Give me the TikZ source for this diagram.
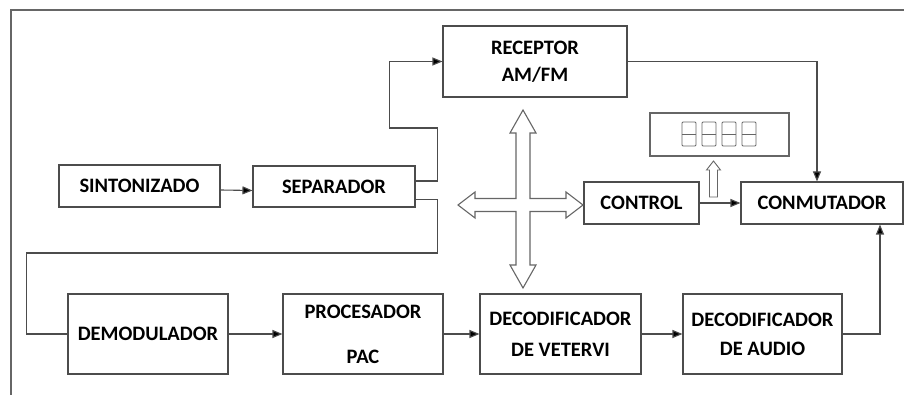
\documentclass[tikz,border=0pt]{standalone}
\usepackage{fontspec}
\setmainfont{Carlito}
\usetikzlibrary{arrows.meta}

\begin{document}
\begin{tikzpicture}[x=1pt, y=-1pt,
    blk/.style={draw=black!70, line width=1.1pt, inner sep=0pt, align=center,
        font=\fontsize{20.5}{23}\selectfont\bfseries, text=black},
    conn/.style={draw=black!70, line width=1.1pt},
    arr/.style={conn, -{Triangle[length=10pt, width=8pt, fill=black]}},
    hollow/.style={draw=black!60, line width=1.1pt, fill=white, line join=miter}]
    % Bounding box
    \useasboundingbox (0,0) rectangle (904,395);

    % Draw Frame
    \draw[draw=black!60, line width=1.3pt] (904,10) -- (11,10) -- (11,395);

    % Top row boxes
    \node[blk, minimum width=161pt, minimum height=42pt] (sint) at (139.5,186) {SINTONIZADO};
    \node[blk, minimum width=162pt, minimum height=41pt] (sep) at (334,186.5) {SEPARADOR};
    \node[blk, minimum width=184pt, minimum height=71pt] (rec) at (535,61.5) {RECEPTOR\\[4pt]AM/FM};
    \node[blk, minimum width=115pt, minimum height=42pt] (ctrl) at (641.5,203) {CONTROL};
    \node[blk, minimum width=162pt, minimum height=42pt] (conm) at (822,203) {CONMUTADOR};
    \node[blk, draw=black!60, minimum width=139pt, minimum height=43pt] (disp) at (719.5,134.5) {};

    % -- display digits
    \foreach \i in {0,...,3} {
        \draw[black!60, line width=0.9pt, rounded corners=1pt] (682+20*\i,122) rectangle ++(14,24);
        \draw[black!60, line width=0.9pt] (682+20*\i,134) -- ++(14,0);
    }

    % Bottom row boxes
    \node[blk, minimum width=160pt, minimum height=80pt] (demod) at (148,334) {DEMODULADOR};
    \node[blk, minimum width=160pt, minimum height=80pt] (proc) at (363,334) {PROCESADOR\\[22pt]PAC};
    \node[blk, minimum width=161pt, minimum height=80pt] (decv) at (560.5,334) {DECODIFICADOR\\[8pt]DE VETERVI};
    \node[blk, minimum width=159pt, minimum height=80pt] (deca) at (762.5,334) {DECODIFICADOR\\[6pt]DE AUDIO};

    % Connectors
    \draw[arr] ([yshift=-4pt]sint.east) -- ([yshift=-4pt]sep.west);
    \draw[arr] ([yshift=5.5pt]sep.east) -- ++(22,0) -- ++(0,-53) -- ++(-48,0) |- (rec.west);
    \draw[arr] (rec.east) -| ([xshift=-5pt]conm.north);
    \draw[arr] (ctrl.east) -- (conm.west);
    \draw[conn] ([yshift=-13pt]sep.east) -- ++(22,0) |- ([xshift=-41pt, yshift=81pt]demod.west) |- (demod.west);
    \draw[arr] (demod.east) -- (proc.west);
    \draw[arr] (proc.east) -- (decv.west);
    \draw[arr] (decv.east) -- (deca.west);
    \draw[arr] (deca.east) -| ([xshift=58pt]conm.south);

    % Bus cross arrow
    \draw[hollow] (523,110) -- (536,133) -- (530,133) -- (530,198.5) -- (566,198.5)
        -- (566,192) -- (583,205) -- (566,218) -- (566,211.5) -- (530,211.5)
        -- (530,265) -- (536,265) -- (523,288) -- (510,265) -- (516,265)
        -- (516,211.5) -- (475,211.5) -- (475,218) -- (458,205) -- (475,192)
        -- (475,198.5) -- (516,198.5) -- (516,133) -- (510,133) -- cycle;

    % Control to display arrow
    \draw[hollow, line width=0.9pt] (709.5,197) -- (709.5,170) -- (706.5,170) -- (713.5,161)
        -- (720.5,170) -- (717.5,170) -- (717.5,197) -- cycle;
\end{tikzpicture}
\end{document}
